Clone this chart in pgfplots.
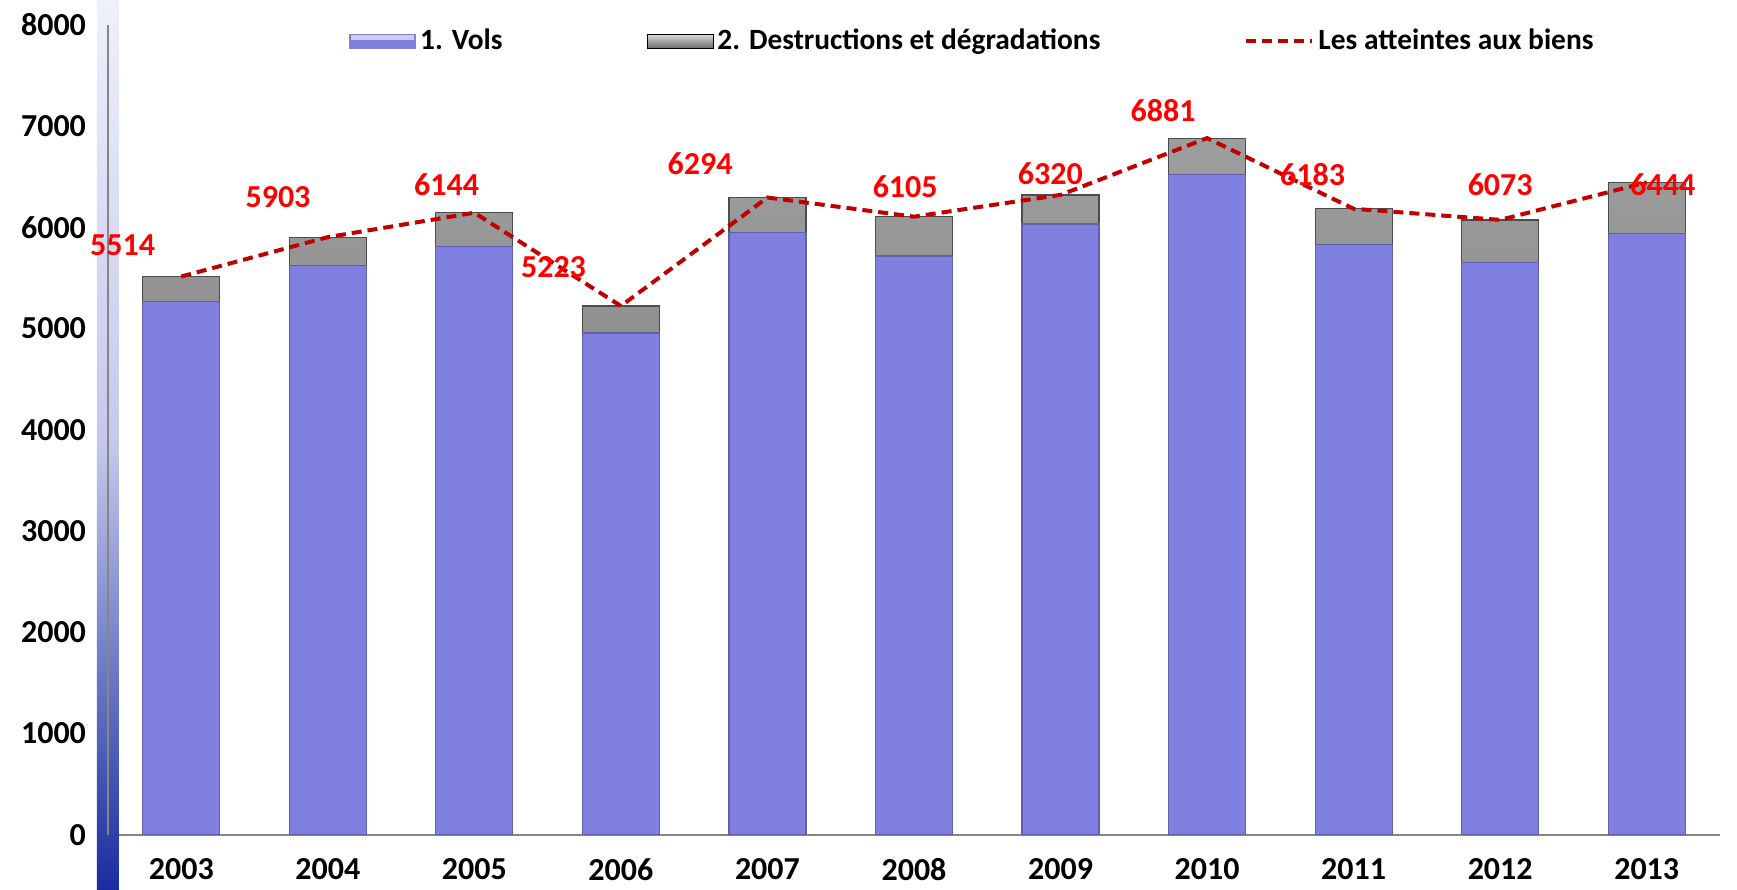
\documentclass[border=0pt]{standalone}
\usepackage{fontspec}
\setmainfont{Carlito}
\usepackage{pgfplots}
\pgfplotsset{compat=1.18}
\definecolor{volsblue}{RGB}{127,127,223}
\definecolor{volsedge}{RGB}{95,95,170}
\definecolor{destgray}{RGB}{140,140,140}
\definecolor{destlight}{RGB}{158,158,158}
\definecolor{destdark}{RGB}{108,108,108}
\definecolor{lineRed}{RGB}{192,0,0}
\definecolor{axisgray}{RGB}{134,134,134}
\pgfplotsset{
  volslegend/.style={legend image code/.code={\fill[volsblue] (0pt,-3.5pt) rectangle (33pt,3.5pt); \fill[white!60!volsblue] (1pt,1pt) rectangle (32pt,3pt);}},
  destlegend/.style={legend image code/.code={\shade[top color=white!70!destgray, bottom color=destdark] (0pt,-3.5pt) rectangle (33pt,3.5pt);}},
  linelegend/.style={legend image code/.code={\draw[lineRed, line width=2pt, dash pattern=on 5pt off 3pt] (0pt,0pt) -- (33pt,0pt);}},
}
\tikzset{redlabel/.style={text=red, font=\fontsize{16}{18}\selectfont\bfseries, inner sep=0pt}}
\begin{document}
\begin{tikzpicture}
\begin{axis}[
  scale only axis,
  width=806pt, height=405pt,
  xmin=-0.5, xmax=10.5,
  ymin=0, ymax=8000,
  xtick={0,...,10},
  xticklabels={2003,2004,2005,2006,2007,2008,2009,2010,2011,2012,2013},
  ytick={0,1000,...,8000},
  axis x line*=bottom,
  axis y line*=left,
  axis line style={axisgray, line width=0.8pt, -},
  major x tick style={draw=none},
  major y tick style={axisgray, line width=0.8pt},
  tick align=outside,
  major tick length=4.5pt,
  /pgf/number format/assume math mode=true,
  /pgf/number format/1000 sep={},
  ticklabel style={font=\fontsize{16}{18}\selectfont\bfseries},
  xticklabel style={yshift=-4pt},
  yticklabel style={xshift=-3pt},
  clip=false,
  legend columns=3,
  legend style={at={(0.1458,0.98)}, anchor=west, draw=none, fill=none,
    font=\fontsize{14.7}{16}\selectfont\bfseries,
    nodes={inner sep=2pt},
    /tikz/every even column/.append style={column sep=70pt}},
]
% decorative wall edge strip
\shade[bottom color={rgb,255:red,25;green,45;blue,160}, top color={rgb,255:red,238;green,240;blue,251}, middle color={rgb,255:red,196;green,200;blue,236}]
  ([xshift=-5.5pt,yshift=-27.2pt]rel axis cs:0,0) rectangle ([xshift=5.5pt,yshift=12.4pt]rel axis cs:0,1);
\draw[axisgray, line width=0.8pt] (rel axis cs:0,0) -- (rel axis cs:0,1);

\addlegendimage{volslegend}
\addlegendentry{1. Vols}
\addlegendimage{destlegend}
\addlegendentry{2. Destructions et dégradations}
\addlegendimage{linelegend}
\addlegendentry{Les atteintes aux biens}

% totals (gray part = Destructions et dégradations on top of Vols)
\addplot[ybar, bar width=38.5pt, bar shift=0pt, top color=destlight, bottom color=destdark, draw=destdark!70!black, line width=0.6pt, forget plot]
  coordinates {(0,5514) (1,5903) (2,6144) (3,5223) (4,6294) (5,6105) (6,6320) (7,6881) (8,6183) (9,6073) (10,6444)};
% Vols
\addplot[ybar, bar width=38.5pt, bar shift=0pt, fill=volsblue, draw=volsedge, line width=0.6pt, forget plot]
  coordinates {(0,5268) (1,5624) (2,5813) (3,4957) (4,5950) (5,5716) (6,6033) (7,6525) (8,5827) (9,5651) (10,5939)};
% total line
\addplot[sharp plot, lineRed, line width=2pt, dash pattern=on 5pt off 3pt, forget plot]
  coordinates {(0,5514) (1,5903) (2,6144) (3,5223) (4,6294) (5,6105) (6,6320) (7,6881) (8,6183) (9,6073) (10,6444)};

\node[redlabel] at (axis cs:-0.40,5826) {5514};
\node[redlabel] at (axis cs:0.66,6297) {5903};
\node[redlabel] at (axis cs:1.81,6417) {6144};
\node[redlabel] at (axis cs:2.54,5607) {5223};
\node[redlabel] at (axis cs:3.54,6625) {6294};
\node[redlabel] at (axis cs:4.94,6406) {6105};
\node[redlabel] at (axis cs:5.93,6527) {6320};
\node[redlabel] at (axis cs:6.70,7150) {6881};
\node[redlabel] at (axis cs:7.72,6516) {6183};
\node[redlabel] at (axis cs:9.00,6417) {6073};
\node[redlabel] at (axis cs:10.11,6417) {6444};
\end{axis}
\pgfresetboundingbox
\path (-54pt,-27.2pt) rectangle (814.5pt,417.4pt);
\end{tikzpicture}
\end{document}
